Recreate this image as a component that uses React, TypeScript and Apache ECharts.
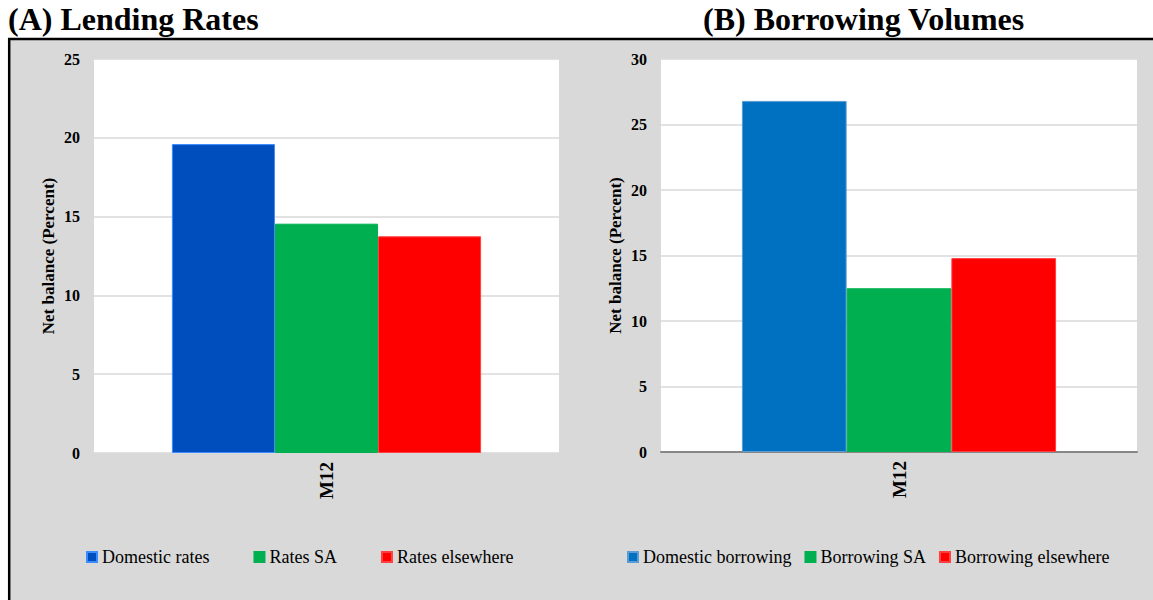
import React, { useEffect, useRef } from "react";
import * as echarts from "echarts";

const categories = ["M12"];
const lendingNames = ["Domestic rates", "Rates SA", "Rates elsewhere"];
const lendingValues = [19.6, 14.55, 13.75];
const borrowingNames = ["Domestic borrowing", "Borrowing SA", "Borrowing elsewhere"];
const borrowingValues = [26.8, 12.5, 14.8];
const lendingColors = ["#004EBE", "#00B050", "#FF0000"];
const borrowingColors = ["#0070C0", "#00B050", "#FF0000"];
const lendingBorders = ["#3B8BFF", "#00B050", "#FF4040"];
const borrowingBorders = ["#5B9BD5", "#00B050", "#FF4040"];
const titleA = "(A) Lending Rates";
const titleB = "(B) Borrowing Volumes";
const yName = "Net balance (Percent)";

const FONT = "Liberation Serif";

export default function App() {
  const ref = useRef<HTMLDivElement>(null);
  useEffect(() => {
    if (!ref.current) return;
    const chart = echarts.init(ref.current, undefined, { renderer: "svg" });

    const mkY = (gi: number, max: number) => ({
      type: "value",
      gridIndex: gi,
      min: 0,
      max,
      interval: 5,
      name: yName,
      nameLocation: "middle",
      nameRotate: 90,
      nameGap: 37,
      nameTextStyle: { fontFamily: FONT, fontWeight: "bold", fontSize: 17, color: "#000" },
      axisLine: { show: false },
      axisTick: { show: false },
      axisLabel: { fontFamily: FONT, fontWeight: "bold", fontSize: 16, color: "#000", margin: 14 },
      splitLine: { show: true, lineStyle: { color: "#D9D9D9", width: 1.5 } },
    });
    const mkX = (gi: number, showLine: boolean) => ({
      type: "category",
      gridIndex: gi,
      data: categories,
      axisTick: { show: false },
      axisLine: { show: showLine, lineStyle: { color: "#878787", width: 2 } },
      axisLabel: { rotate: 90, fontFamily: FONT, fontWeight: "bold", fontSize: 19, color: "#000", margin: 9 },
    });

    const series: any[] = [];
    lendingNames.forEach((n, i) => {
      series.push({
        type: "bar",
        name: n,
        xAxisIndex: 0,
        yAxisIndex: 0,
        data: [lendingValues[i]],
        barGap: "0%",
        barCategoryGap: "33.5%",
        itemStyle: { color: lendingColors[i], borderColor: lendingBorders[i], borderWidth: 1 },
      });
    });
    borrowingNames.forEach((n, i) => {
      series.push({
        type: "bar",
        name: n,
        xAxisIndex: 1,
        yAxisIndex: 1,
        data: [borrowingValues[i]],
        barGap: "0%",
        barCategoryGap: "34%",
        itemStyle: { color: borrowingColors[i], borderColor: borrowingBorders[i], borderWidth: 1 },
      });
    });

    const legendCommon = {
      icon: "rect",
      itemWidth: 10,
      itemHeight: 10,
      textStyle: { fontFamily: FONT, fontSize: 18, color: "#000" },
      top: 543,
      orient: "horizontal",
    };

    chart.setOption({
      animation: false,
      backgroundColor: "#D9D9D9",
      textStyle: { fontFamily: FONT },
      graphic: [
        { type: "rect", shape: { x: 0, y: 0, width: 1153, height: 38 }, style: { fill: "#fff" }, silent: true },
        { type: "rect", shape: { x: 0, y: 0, width: 8, height: 600 }, style: { fill: "#fff" }, silent: true },
        { type: "line", shape: { x1: 8, y1: 39, x2: 1153, y2: 39 }, style: { stroke: "#000", lineWidth: 2.5 } },
        { type: "line", shape: { x1: 9.2, y1: 38, x2: 9.2, y2: 600 }, style: { stroke: "#000", lineWidth: 2.5 } },
        {
          type: "text",
          left: 8,
          top: 3,
          style: { text: titleA, fontFamily: FONT, fontWeight: "bold", fontSize: 32, fill: "#000" },
        },
        {
          type: "text",
          left: 703,
          top: 3,
          style: { text: titleB, fontFamily: FONT, fontWeight: "bold", fontSize: 32, fill: "#000" },
        },
      ],
      grid: [
        { left: 94, top: 59, width: 465, height: 394, show: true, backgroundColor: "#fff", borderWidth: 0 },
        { left: 661, top: 59, width: 476, height: 393, show: true, backgroundColor: "#fff", borderWidth: 0 },
      ],
      xAxis: [mkX(0, false), mkX(1, true)],
      yAxis: [mkY(0, 25), mkY(1, 30)],
      legend: [
        { ...legendCommon, data: lendingNames, left: 81, itemGap: 44 },
        { ...legendCommon, data: borrowingNames, left: 622, itemGap: 13 },
      ],
      series,
    });
    return () => chart.dispose();
  }, []);
  return (
    <div
      ref={ref}
      style={{ position: "absolute", left: 0, top: 0, width: 1153, height: 600 }}
    />
  );
}
